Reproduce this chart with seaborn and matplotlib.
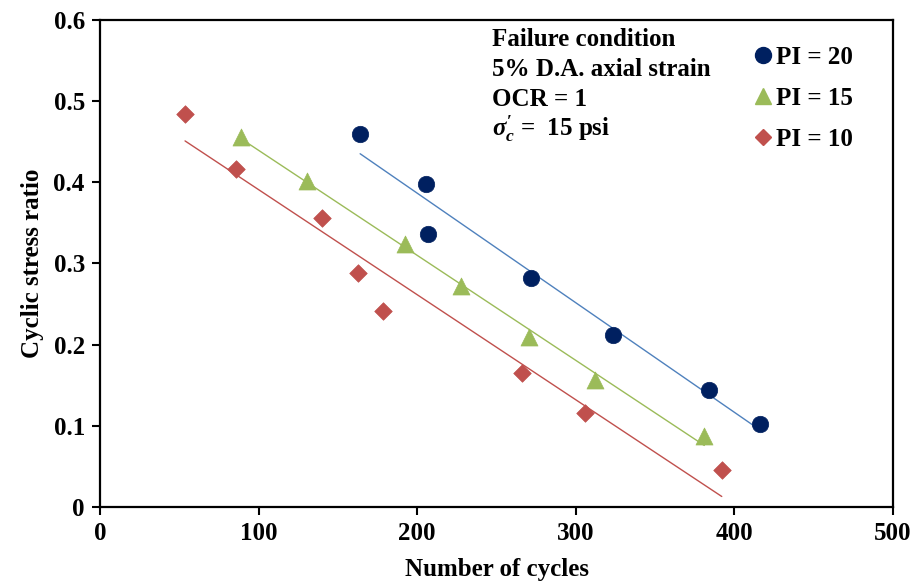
import numpy as np
import pandas as pd
import matplotlib
matplotlib.use("Agg")
import matplotlib.pyplot as plt
import seaborn as sns
from matplotlib.lines import Line2D

# Data
pi20_x = [164, 205.5, 207, 272, 323.5, 384, 416]
pi20_y = [0.460, 0.398, 0.336, 0.282, 0.212, 0.144, 0.102]
pi15_x = [89, 130.5, 192, 227.5, 270.5, 312, 381]
pi15_y = [0.456, 0.402, 0.324, 0.272, 0.210, 0.157, 0.087]
pi10_x = [53.6, 85.8, 140, 162.7, 178.4, 266, 306, 392]
pi10_y = [0.484, 0.416, 0.356, 0.288, 0.241, 0.165, 0.116, 0.046]

labels = ["PI = 20", "PI = 15", "PI = 10"]
x_ticks = [0, 100, 200, 300, 400, 500]
y_ticks = [0, 0.1, 0.2, 0.3, 0.4, 0.5, 0.6]
y_tick_labels = ["0", "0.1", "0.2", "0.3", "0.4", "0.5", "0.6"]

sns.set_theme(style="white")
plt.rcParams["font.family"] = ["Liberation Serif", "DejaVu Serif"]
plt.rcParams["font.weight"] = "bold"
plt.rcParams["text.color"] = "black"
plt.rcParams["axes.labelcolor"] = "black"
plt.rcParams["xtick.color"] = "black"
plt.rcParams["ytick.color"] = "black"
plt.rcParams["mathtext.fontset"] = "custom"
plt.rcParams["mathtext.rm"] = "Liberation Serif:bold"
plt.rcParams["mathtext.it"] = "Liberation Serif:italic:bold"
plt.rcParams["mathtext.bf"] = "Liberation Serif:bold"

FS = 18

fig = plt.figure(figsize=(9.11, 5.83), dpi=100)
ax = fig.add_axes([0.1098, 0.1304, 0.8705, 0.8353])

series = [
    (pi20_x, pi20_y, "o", "#002060", "#4F81BD", 140, 11.5),
    (pi15_x, pi15_y, "^", "#9BBB59", "#9BBB59", 150, 12.0),
    (pi10_x, pi10_y, "D", "#C0504D", "#C0504D", 80, 8.5),
]

handles = []
for (xs, ys, mk, mc, lc, s, ms), lab in zip(series, labels):
    df = pd.DataFrame({"x": xs, "y": ys})
    sns.regplot(data=df, x="x", y="y", ax=ax, scatter=False, ci=None,
                truncate=True, line_kws={"color": lc, "linewidth": 1.0, "zorder": 2})
    sns.scatterplot(data=df, x="x", y="y", ax=ax, marker=mk, color=mc, s=s,
                    edgecolor=mc, linewidth=0.5, zorder=3, legend=False)
    handles.append(Line2D([], [], linestyle="none", marker=mk, color=mc,
                          markersize=ms, label=lab))

ax.set_xlim(0, 500)
ax.set_ylim(0, 0.6)
ax.set_xticks(x_ticks)
ax.set_xticklabels([str(t) for t in x_ticks])
ax.set_yticks(y_ticks)
ax.set_yticklabels(y_tick_labels)
ax.tick_params(axis="both", which="major", direction="out", length=6, width=1.5,
               labelsize=FS, colors="black", pad=5,
               bottom=True, left=True)
for lab in ax.get_xticklabels() + ax.get_yticklabels():
    lab.set_fontweight("bold")
for sp in ax.spines.values():
    sp.set_visible(True)
    sp.set_color("black")
    sp.set_linewidth(1.6)

ax.set_xlabel("Number of cycles", fontsize=FS, fontweight="bold", labelpad=9,
              color="black")
ax.set_ylabel("Cyclic stress ratio", fontsize=FS, fontweight="bold", labelpad=7,
              color="black")
ax.grid(False)

txt = ["Failure condition", "5% D.A. axial strain", "OCR = 1", r"$\sigma^{\prime}_{c}$ =  15 psi"]
for i, t in enumerate(txt):
    ax.text(0.494, 0.96 - i * 0.0615, t, transform=ax.transAxes, fontsize=FS,
            fontweight="bold", ha="left", va="center", color="black")

leg = ax.legend(handles=handles, loc="upper left", bbox_to_anchor=(0.808, 0.967),
                frameon=False, handletextpad=0.0, labelspacing=0.72,
                borderaxespad=0, handlelength=1.0, prop={"weight": "bold", "size": FS})
for t in leg.get_texts():
    t.set_color("black")

fig.savefig("out.png", dpi=100)
